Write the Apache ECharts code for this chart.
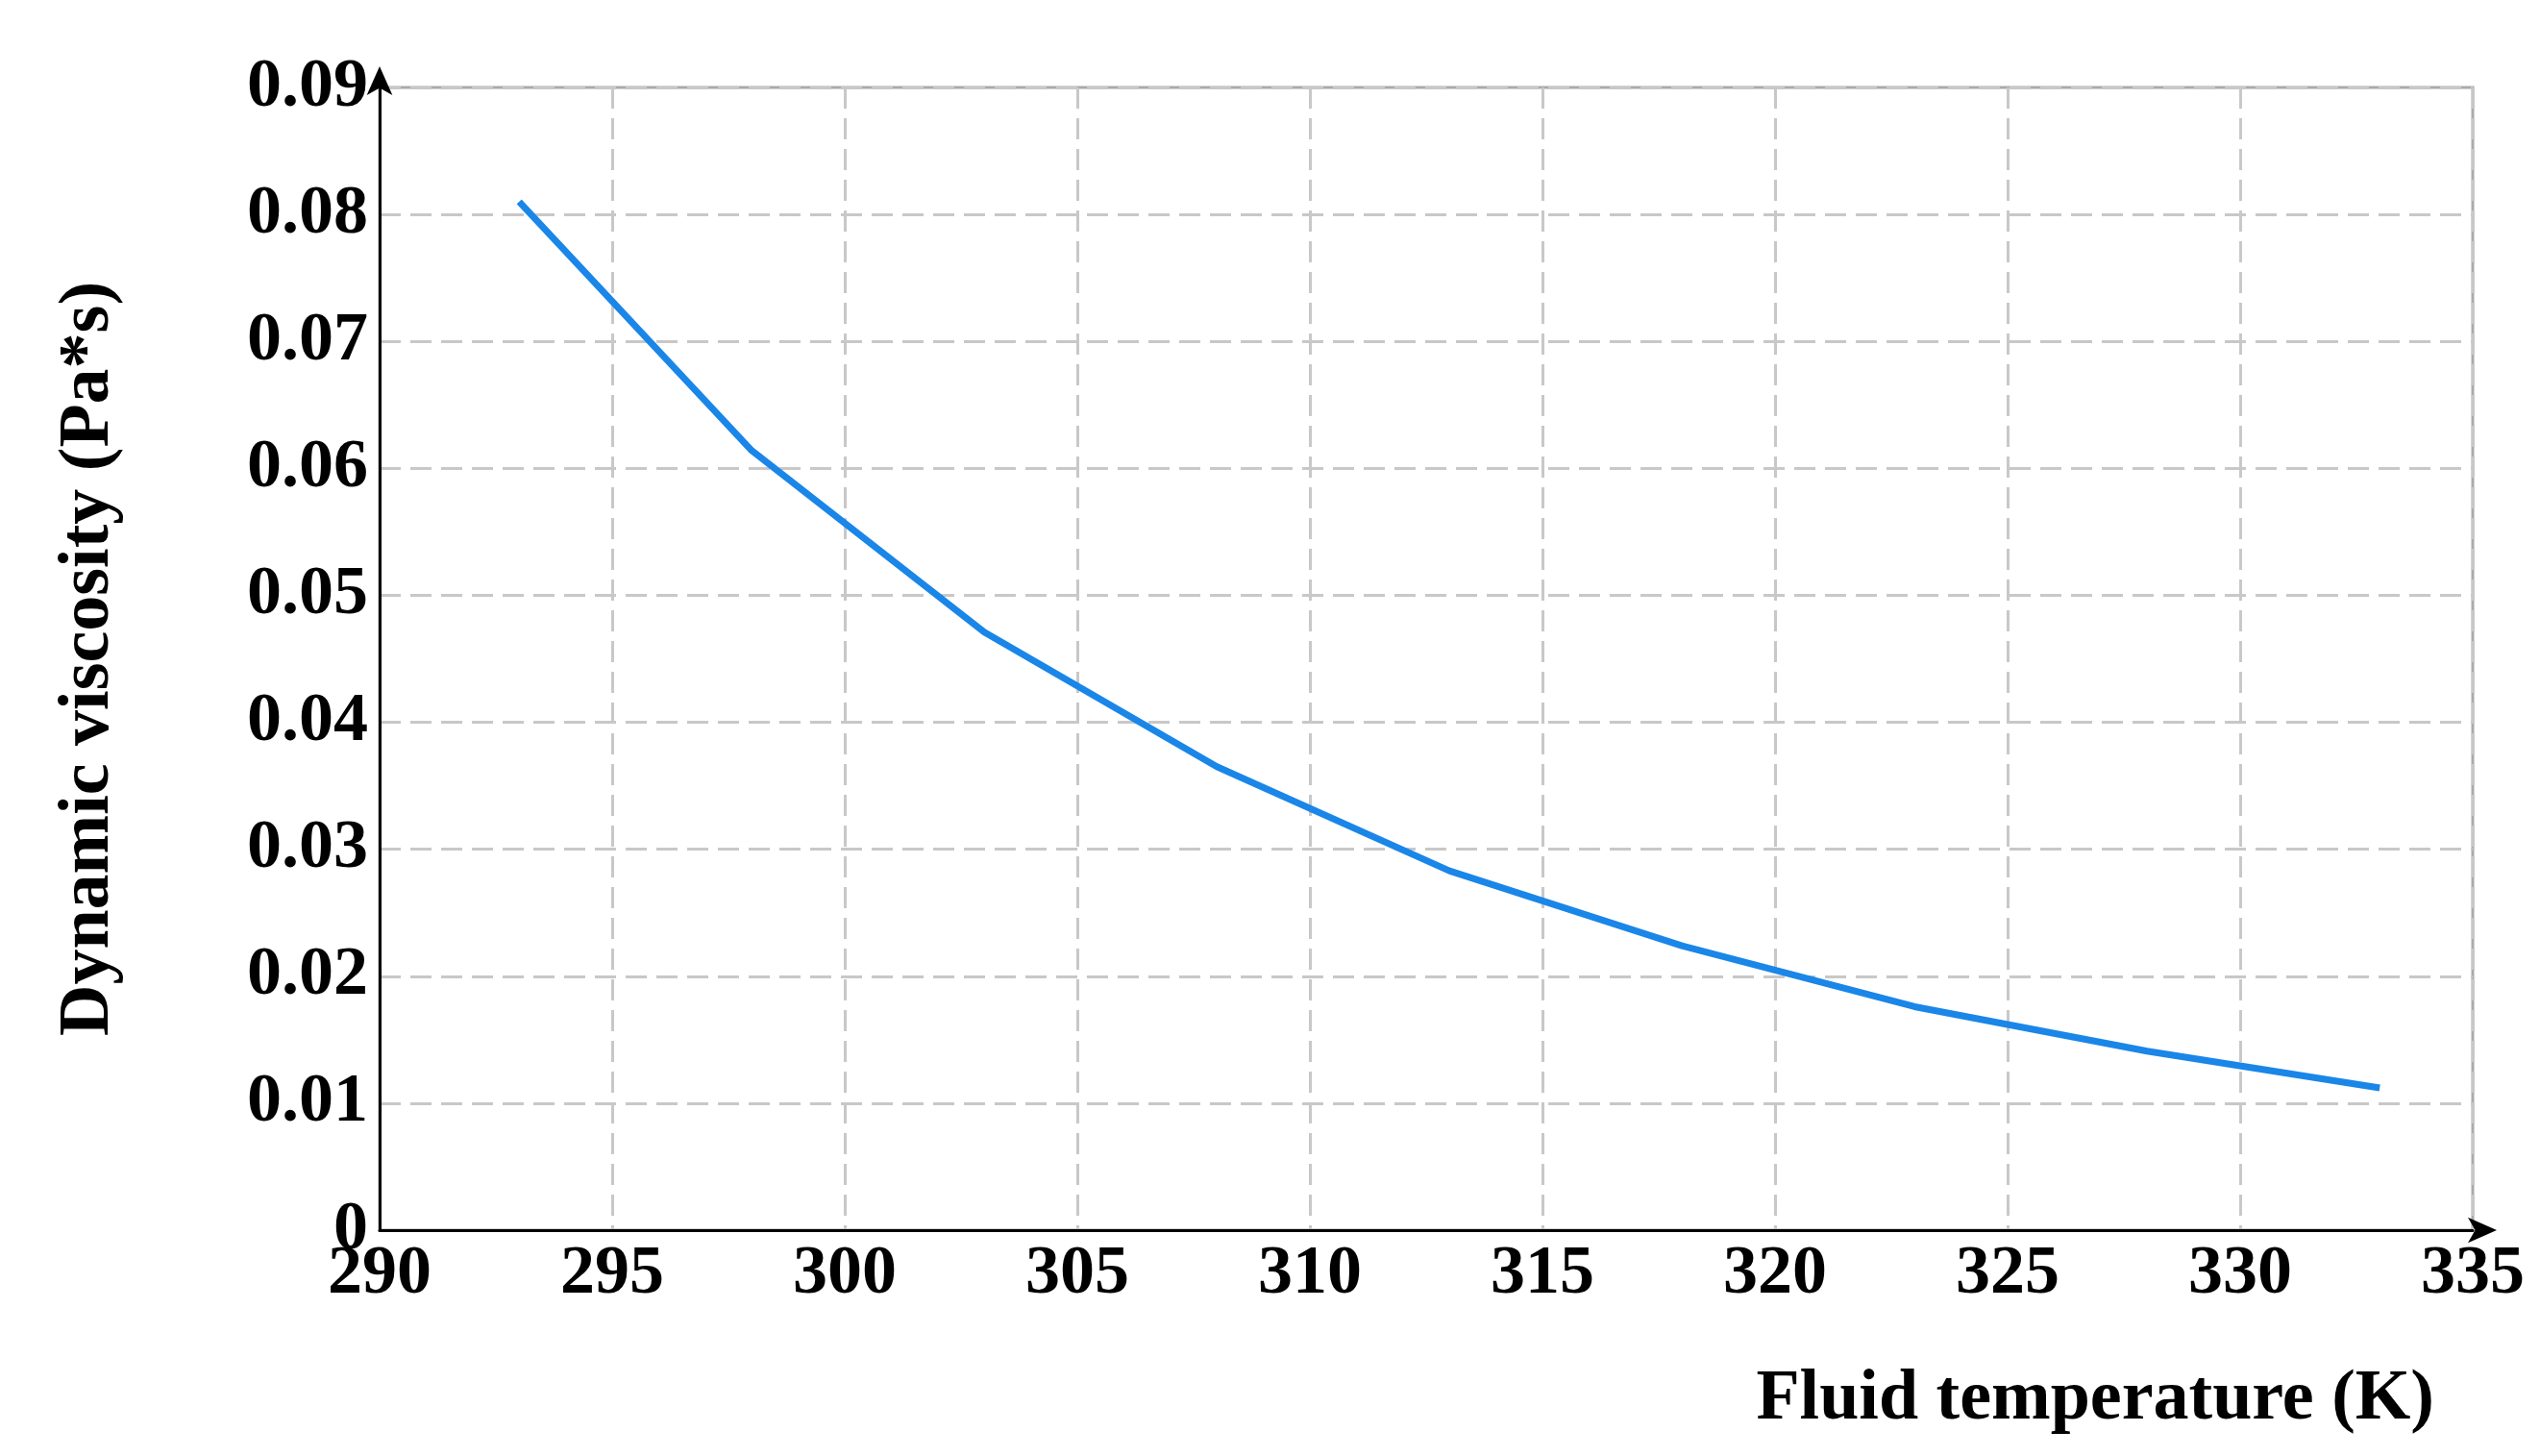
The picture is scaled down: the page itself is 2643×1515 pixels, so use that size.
<!DOCTYPE html>
<html>
<head>
<meta charset="utf-8">
<script src="https://cdn.jsdelivr.net/npm/echarts@6/dist/echarts.min.js"></script>
<style>html,body{margin:0;padding:0;background:#fff}#chart{width:2643px;height:1515px}</style>
</head>
<body>
<div id="chart"></div>
<script>
// fluid temperature (K) and dynamic viscosity (Pa*s)
var temperature = [293, 298, 303, 308, 313, 318, 323, 328, 333];
var viscosity = [0.081, 0.0614, 0.0471, 0.0365, 0.0283, 0.0224, 0.0176, 0.0141, 0.0112];

var font = 'Liberation Serif';
var myChart = echarts.init(document.getElementById('chart'));
var option = {
    animation: false,
    grid: {
        left: 395, right: 70, top: 91, bottom: 235,
        show: true, borderColor: '#aaa', borderWidth: 3
    },
    xAxis: {
        type: 'value', min: 290, max: 335, interval: 5,
        name: 'Fluid temperature (K)', nameLocation: 'end',
        nameGap: 0,
        nameTextStyle: { fontFamily: font, fontWeight: 'bold', fontSize: 74, color: '#000',
            align: 'right', verticalAlign: 'top', padding: [140, 40, 0, 0] },
        axisLine: { lineStyle: { color: '#000', width: 3 }, symbol: ['none', 'arrow'], symbolSize: [20, 30], symbolOffset: [0, 25] },
        axisTick: { show: false },
        axisLabel: { fontFamily: font, fontWeight: 'bold', fontSize: 72, color: '#000', margin: 10 },
        splitLine: { lineStyle: { type: [22, 10], color: '#c8c8c8', width: 3 } }
    },
    yAxis: {
        type: 'value', min: 0, max: 0.09, interval: 0.01,
        name: 'Dynamic viscosity (Pa*s)', nameLocation: 'middle', nameGap: 265,
        nameTextStyle: { fontFamily: font, fontWeight: 'bold', fontSize: 74, color: '#000' },
        axisLine: { show: true, lineStyle: { color: '#000', width: 3 }, symbol: ['none', 'arrow'], symbolSize: [20, 30], symbolOffset: [0, 22] },
        axisTick: { show: false },
        axisLabel: { fontFamily: font, fontWeight: 'bold', fontSize: 72, color: '#000', margin: 12,
            formatter: function (v) { return v === 0 ? '0' : v.toFixed(2); } },
        splitLine: { lineStyle: { type: [22, 10], color: '#c8c8c8', width: 3 } }
    },
    series: [{
        type: 'line',
        data: temperature.map(function (t, i) { return [t, viscosity[i]]; }),
        showSymbol: false,
        lineStyle: { color: '#1a86e8', width: 7 }
    }]
};
myChart.setOption(option);
</script>
</body>
</html>
